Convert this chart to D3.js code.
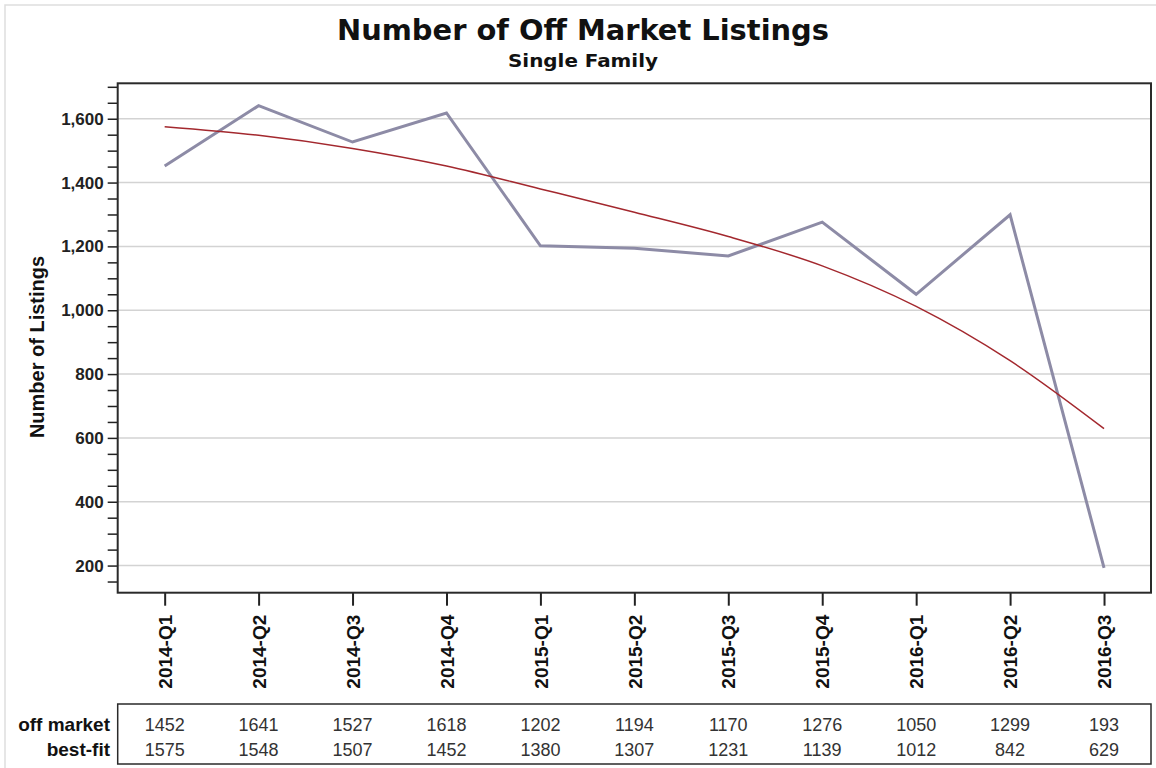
<!DOCTYPE html>
<html>
<head>
<meta charset="utf-8">
<script src="https://cdn.jsdelivr.net/npm/d3@7"></script>
<style>
  body { margin: 0; background: #fff; }
  svg { display: block; }
</style>
</head>
<body>
<script>
// Chart data
const quarters = ['2014-Q1', '2014-Q2', '2014-Q3', '2014-Q4', '2015-Q1', '2015-Q2',
                  '2015-Q3', '2015-Q4', '2016-Q1', '2016-Q2', '2016-Q3'];
const offMarket = [1452, 1641, 1527, 1618, 1202, 1194, 1170, 1276, 1050, 1299, 193];
const bestFit = [1575, 1548, 1507, 1452, 1380, 1307, 1231, 1139, 1012, 842, 629];
const yTickLabels = [200, 400, 600, 800, 1000, 1200, 1400, 1600];
const rowLabels = ['off market', 'best-fit'];

const width = 1156, height = 768;
const plot = { left: 117.7, right: 1151, top: 83.3, bottom: 592.7 };

const svg = d3.select('body').append('svg')
  .attr('width', width)
  .attr('height', height);

// faint outer border (top and left)
svg.append('path')
  .attr('d', `M5,${height} L5,5 L${width},5`)
  .attr('fill', 'none')
  .attr('stroke', '#dedede')
  .attr('stroke-width', 1.5);

const x = d3.scalePoint()
  .domain(quarters)
  .range([plot.left, plot.right])
  .padding(0.5);

const y = d3.scaleLinear()
  .domain([115, 1711])
  .range([plot.bottom, plot.top]);

// Titles
svg.append('text')
  .attr('x', 583).attr('y', 40)
  .attr('text-anchor', 'middle')
  .style('font-family', '"DejaVu Sans Condensed", "DejaVu Sans", sans-serif')
  .style('font-weight', 'bold')
  .style('font-stretch', 'condensed')
  .style('font-size', '28px')
  .attr('textLength', 492)
  .attr('lengthAdjust', 'spacingAndGlyphs')
  .attr('fill', '#111')
  .text('Number of Off Market Listings');

svg.append('text')
  .attr('x', 583).attr('y', 67)
  .attr('text-anchor', 'middle')
  .style('font-family', '"DejaVu Sans Condensed", "DejaVu Sans", sans-serif')
  .style('font-weight', 'bold')
  .style('font-stretch', 'condensed')
  .style('font-size', '18px')
  .attr('textLength', 150)
  .attr('lengthAdjust', 'spacingAndGlyphs')
  .attr('fill', '#111')
  .text('Single Family');

// Grid lines
svg.append('g')
  .selectAll('line')
  .data(yTickLabels)
  .join('line')
  .attr('x1', plot.left).attr('x2', plot.right)
  .attr('y1', d => y(d)).attr('y2', d => y(d))
  .attr('stroke', '#d3d3d3')
  .attr('stroke-width', 1.5);

// Y axis: major labelled ticks + minor ticks every 50
const yAxis = svg.append('g')
  .attr('transform', `translate(${plot.left},0)`)
  .call(d3.axisLeft(y)
    .tickValues(d3.range(150, 1701, 50))
    .tickSize(10)
    .tickPadding(4)
    .tickFormat(d => yTickLabels.includes(d) ? d3.format(',')(d) : ''));
yAxis.select('.domain').remove();
yAxis.selectAll('.tick line').attr('stroke', '#222').attr('stroke-width', 1.5);
yAxis.selectAll('.tick text')
  .style('font-family', '"Liberation Sans", Arial, sans-serif')
  .style('font-weight', 'bold')
  .style('font-size', '17px')
  .attr('fill', '#222');

svg.append('text')
  .attr('transform', 'translate(44,347) rotate(-90)')
  .attr('text-anchor', 'middle')
  .style('font-family', '"Liberation Sans", Arial, sans-serif')
  .style('font-weight', 'bold')
  .style('font-size', '20px')
  .attr('fill', '#111')
  .text('Number of Listings');

// X axis
const xAxis = svg.append('g')
  .attr('transform', `translate(0,${plot.bottom})`)
  .call(d3.axisBottom(x).tickSize(13).tickPadding(0));
xAxis.select('.domain').remove();
xAxis.selectAll('.tick line').attr('stroke', '#222').attr('stroke-width', 2);
xAxis.selectAll('.tick text')
  .attr('transform', 'rotate(-90)')
  .attr('x', -22)
  .attr('y', 0)
  .attr('dy', '0.35em')
  .attr('text-anchor', 'end')
  .style('font-family', '"Liberation Sans", Arial, sans-serif')
  .style('font-weight', 'bold')
  .style('font-size', '19px')
  .attr('fill', '#111');

// Lines
const lineOff = d3.line()
  .x((d, i) => x(quarters[i]))
  .y(d => y(d));

const lineFit = d3.line()
  .x((d, i) => x(quarters[i]))
  .y(d => y(d))
  .curve(d3.curveMonotoneX);

svg.append('path')
  .datum(offMarket)
  .attr('d', lineOff)
  .attr('fill', 'none')
  .attr('stroke', '#8d8ba6')
  .attr('stroke-width', 3)
  .attr('stroke-linejoin', 'miter');

svg.append('path')
  .datum(bestFit)
  .attr('d', lineFit)
  .attr('fill', 'none')
  .attr('stroke', '#a3282e')
  .attr('stroke-width', 1.5);

// Plot frame
svg.append('rect')
  .attr('x', plot.left).attr('y', plot.top)
  .attr('width', plot.right - plot.left)
  .attr('height', plot.bottom - plot.top)
  .attr('fill', 'none')
  .attr('stroke', '#2a2a2a')
  .attr('stroke-width', 2);

// Data table below the chart
const table = { top: 704, bottom: 764 };
svg.append('rect')
  .attr('x', plot.left).attr('y', table.top)
  .attr('width', plot.right - plot.left)
  .attr('height', table.bottom - table.top)
  .attr('fill', 'none')
  .attr('stroke', '#2a2a2a')
  .attr('stroke-width', 1.5);

const rows = [offMarket, bestFit];
const rowY = [731, 756];

rows.forEach((vals, r) => {
  svg.append('text')
    .attr('x', 110).attr('y', rowY[r])
    .attr('text-anchor', 'end')
    .style('font-family', '"Liberation Sans", Arial, sans-serif')
    .style('font-weight', 'bold')
    .style('font-size', '19px')
    .attr('fill', '#111')
    .text(rowLabels[r]);

  svg.append('g')
    .selectAll('text')
    .data(vals)
    .join('text')
    .attr('x', (d, i) => x(quarters[i]))
    .attr('y', rowY[r])
    .attr('text-anchor', 'middle')
    .style('font-family', '"Liberation Sans", Arial, sans-serif')
    .style('font-size', '18px')
    .attr('fill', '#333')
    .text(d => d);
});
</script>
</body>
</html>
